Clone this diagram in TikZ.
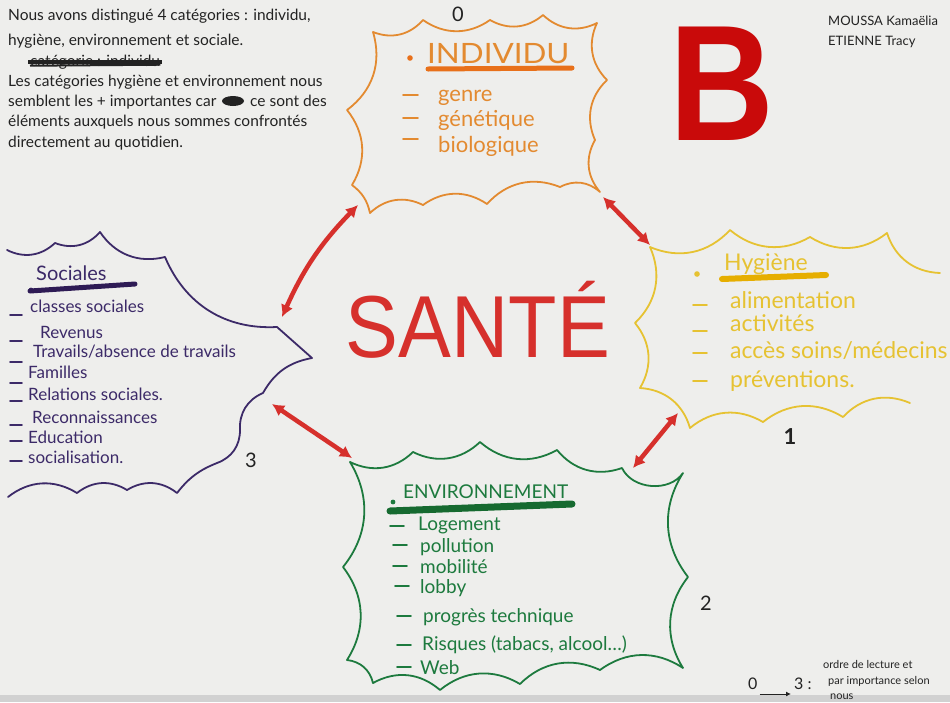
\documentclass[tikz,border=0pt]{standalone}
\usepackage{fontspec}
\setmainfont{Lato}
\newfontfamily\bigfam{Liberation Sans}
\usetikzlibrary{arrows.meta}
\definecolor{paper}{HTML}{EEEEEC}
\definecolor{inkC}{HTML}{222222}
\definecolor{redC}{HTML}{D6302C}
\definecolor{bigB}{HTML}{C90A0A}
\definecolor{orangeC}{HTML}{E38A30}
\definecolor{orangeU}{HTML}{E8701A}
\definecolor{yellowC}{HTML}{E6C232}
\definecolor{yellowU}{HTML}{E6AE00}
\definecolor{purpleC}{HTML}{3C2A68}
\definecolor{purpleU}{HTML}{2E1B55}
\definecolor{greenC}{HTML}{1D7A3E}
\definecolor{greenU}{HTML}{166A30}
\tikzset{
  txt/.style={anchor=base west, inner sep=0pt},
  cloud/.style={line width=1.8pt, line join=round, line cap=round},
  br/.style={bend right=35},
  bl/.style={bend left=35},
  redarrow/.style={draw=redC, line width=4.5pt, {Latex[length=12pt,width=13pt]}-{Latex[length=12pt,width=13pt]}},
  uline/.style={line width=5pt, line cap=round},
  dashmark/.style={line width=1.6pt, line cap=round},
}
\begin{document}
\begin{tikzpicture}[x=1pt,y=-1pt]
\useasboundingbox (0,0) rectangle (950,702);
\fill[paper] (0,0) rectangle (950,702);
\fill[black!18] (0,695) rectangle (950,702);

% ---------- top-left note ----------
\begin{scope}[every node/.style={txt, text=inkC, font=\fontsize{15.5}{17}\selectfont}]
\node (n1) at (8,20) {Nous avons distingué 4 catégories : individu,};
\node (n2) at (8,45) {hygiène, environnement et sociale.};
\node (n3) at (30,66) {catégorie : individu};
\node (n4) at (8,86) {Les catégories hygiène et environnement nous};
\node (n5a) at (8,106) {semblent les + importantes car};
\node (n5b) at (250,106) {ce sont des};
\node (n6) at (8,126) {éléments auxquels nous sommes confrontés};
\node (n7) at (8,147) {directement au quotidien.};
\end{scope}
\draw[inkC, line width=4pt] ([xshift=-2pt]n3.west) -- ([xshift=2pt]n3.east);
\draw[inkC, line width=2pt] ([yshift=-4pt]n3.west) -- ([yshift=-3pt]n3.east);
\fill[inkC] (233,101) ellipse (11pt and 5pt);

% ---------- names ----------
\node[txt, text=inkC, font=\fontsize{13}{15}\selectfont] (name1) at (828,25) {MOUSSA Kamaëlia};
\node[txt, text=inkC, font=\fontsize{13}{15}\selectfont] (name2) at (828,45) {ETIENNE Tracy};

% ---------- big B ----------
\node[inner sep=0pt, text=bigB, font=\bigfam\bfseries\fontsize{165}{165}\selectfont, anchor=base] (B) at (722,140) {\scalebox{0.88}[1]{B}};

% ---------- clouds ----------
% individu
\draw[cloud, orangeC] (373,32) to[br] (423,20) to[br] (490,20) to[br] (543,15) to[br] (597,23)
  to[br] (607,80) to[br] (595,140) to[br] (600,192)
  to[br] (560,187) to[br] (487,204) to[br] (423,205) to[br] (370,213)
  to[bend right=20] (352,185) to[br] (347,110) to[br] (373,32);
% hygiene
\draw[cloud, yellowC] (910,403) to[br] (843,417) to[br] (763,422) to[br] (690,428)
  to[br] (640,388) to[br] (635,323) to[br] (650,247)
  to[br] (730,230) to[br] (810,237) to[br] (887,233) to[br] (940,273);
% sociales
\draw[cloud, purpleC] (7,250) to[br] (55,243) to[br] (100,232) to[br] (165,257) to[br] (277,327)
  -- (312,358) to[bend right=25] (263,393) to[br] (240,430) to[bl] (217,463)
  to[bend right=15] (177,493) to[br] (127,490) to[br] (77,493) to[br] (8,497);
% environnement
\draw[cloud, greenC] (350,462) to[br] (413,452) to[br] (480,442) to[br] (557,450) to[br] (622,468)
  to[bend right=60] (683,473) to[br] (688,577) to[br] (683,668)
  to[br] (600,670) to[br] (520,684) to[br] (440,690) to[br] (373,683)
  to[br] (347,660) to[br] (343,567) to[br] (350,462);

% ---------- numbers ----------
\node[text=inkC, font=\fontsize{20}{22}\selectfont] (num0) at (458,14) {0};
\node[text=inkC, font=\fontsize{22}{24}\selectfont\bfseries] (num1) at (790,437) {1};
\node[text=inkC, font=\fontsize{20}{22}\selectfont] (num2) at (706,603) {2};
\node[text=inkC, font=\fontsize{20}{22}\selectfont] (num3) at (251,460) {3};

% ---------- individu ----------
\fill[orangeU] (410,58) circle (2.8pt);
\node[txt, text=orangeC, font=\fontsize{28}{30}\selectfont] (indT) at (427,63) {\scalebox{1.12}[1]{INDIVIDU}};
\draw[uline, orangeU] (428,69) -- (572,68);
\begin{scope}[every node/.style={txt, text=orangeC, font=\fontsize{22}{24}\selectfont}]
\node (i1) at (438,101) {genre};
\node (i2) at (438,126) {génétique};
\node (i3) at (438,152) {biologique};
\end{scope}
\foreach \y in {95,118,139} \draw[dashmark, orangeC] (403,\y) -- (418,\y);

% ---------- hygiene ----------
\fill[yellowC] (697,274) circle (2.8pt);
\node[txt, text=yellowC, font=\fontsize{23}{25}\selectfont] (hygT) at (724,270) {Hygiène};
\draw[uline, yellowU, line width=6pt] (722,279) -- (826,275);
\begin{scope}[every node/.style={txt, text=yellowC, font=\fontsize{23}{25}\selectfont}]
\node (h1) at (730,308) {alimentation};
\node (h2) at (730,331) {activités};
\node (h3) at (730,358) {accès soins/médecins};
\node (h4) at (730,387) {préventions.};
\end{scope}
\foreach \y in {305,331,353,381} \draw[dashmark, yellowC] (693,\y) -- (707,\y);

% ---------- sociales ----------
\fill[purpleC] (31,290) circle (2.4pt);
\node[txt, text=purpleC, font=\fontsize{20}{22}\selectfont] (socT) at (36,280) {Sociales};
\draw[uline, purpleU, line width=5pt] (30,291) -- (135,284);
\begin{scope}[every node/.style={txt, text=purpleC, font=\fontsize{17}{19}\selectfont}]
\node (s1) at (30,312) {classes sociales};
\node (s2) at (40,338) {Revenus};
\node (s3) at (33,357) {Travails/absence de travails};
\node (s4) at (28,378) {Familles};
\node (s5) at (28,400) {Relations sociales.};
\node (s6) at (32,423) {Reconnaissances};
\node (s7) at (28,443) {Education};
\node (s8) at (28,463) {socialisation.};
\end{scope}
\foreach \y in {315,341,362,383,401,425,441,461} \draw[dashmark, purpleC] (10,\y) -- (22,\y);

% ---------- environnement ----------
\fill[greenC] (393,502) circle (2.4pt);
\node[txt, text=greenC, font=\fontsize{19}{21}\selectfont] (envT) at (403,498) {ENVIRONNEMENT};
\draw[uline, greenU, line width=7pt] (390,511) -- (572,504);
\begin{scope}[every node/.style={txt, text=greenC, font=\fontsize{19}{21}\selectfont}]
\node (e1) at (418,530) {Logement};
\node (e2) at (420,552) {pollution};
\node (e3) at (420,573) {mobilité};
\node (e4) at (420,593) {lobby};
\node (e5) at (423,622) {progrès technique};
\node (e6) at (422,650) {Risques (tabacs, alcool…)};
\node (e7) at (420,674) {Web};
\end{scope}
\foreach \y/\xa in {526/390,545/393,566/393,586/395,616/397,645/397,667/397} \draw[dashmark, greenC] (\xa,\y) -- (\xa+14,\y);

% ---------- SANTE ----------
\node[inner sep=0pt, text=redC, font=\bigfam\fontsize{88}{88}\selectfont, anchor=base] (sante) at (478,357) {\scalebox{0.9}[1]{SANTÉ}};

% ---------- arrows ----------
\coordinate (a1s) at (358,205);
\coordinate (a1e) at (282,317);
\coordinate (a2s) at (603,197);
\coordinate (a2e) at (650,245);
\coordinate (a3s) at (678,413);
\coordinate (a3e) at (633,468);
\coordinate (a4s) at (272,404);
\coordinate (a4e) at (352,458);
\draw[redarrow] (a1s) to[bend right=10] (a1e);
\draw[redarrow] (a2s) -- (a2e);
\draw[redarrow] (a3s) -- (a3e);
\draw[redarrow] (a4s) -- (a4e);

% ---------- legend ----------
\node[txt, text=inkC, font=\fontsize{16}{18}\selectfont] (lg0) at (748,689) {0};
\node[txt, text=inkC, font=\fontsize{16}{18}\selectfont] (lg3) at (794,689) {3 :};
\draw[inkC, line width=1pt, -{Latex[length=5pt,width=5pt]}] ([xshift=2pt,yshift=-5pt]lg0.base east) -- ([xshift=-3pt,yshift=-5pt]lg3.base west);
\begin{scope}[every node/.style={txt, text=inkC, font=\fontsize{11}{13}\selectfont}]
\node (lgA) at (823,668) {ordre de lecture et};
\node (lgB) at (828,684) {par importance selon};
\node (lgC) at (830,699) {nous};
\end{scope}
\end{tikzpicture}
\end{document}
